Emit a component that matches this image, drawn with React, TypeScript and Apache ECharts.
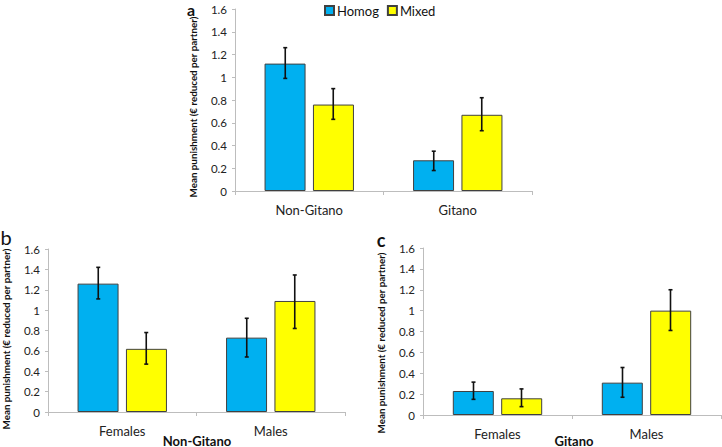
import React, { useEffect, useRef } from "react";
import * as echarts from "echarts";

// Panel a
const catsA = ["Non-Gitano", "Gitano"];
const homogA = [1.12, 0.27];
const homogALow = [0.99, 0.18];
const homogAHigh = [1.26, 0.35];
const mixedA = [0.76, 0.67];
const mixedALow = [0.63, 0.53];
const mixedAHigh = [0.9, 0.82];

// Panel b (Non-Gitano)
const catsB = ["Females", "Males"];
const homogB = [1.26, 0.73];
const homogBLow = [1.11, 0.54];
const homogBHigh = [1.42, 0.92];
const mixedB = [0.62, 1.09];
const mixedBLow = [0.47, 0.82];
const mixedBHigh = [0.78, 1.345];

// Panel c (Gitano)
const catsC = ["Females", "Males"];
const homogC = [0.23, 0.31];
const homogCLow = [0.15, 0.17];
const homogCHigh = [0.315, 0.455];
const mixedC = [0.16, 1.0];
const mixedCLow = [0.08, 0.81];
const mixedCHigh = [0.25, 1.2];

const yTitle = "Mean punishment (€ reduced per partner)";
const FONT = "Lato, 'Liberation Sans', sans-serif";
const BLUE = "#00B0F0";
const YELLOW = "#FFFF00";

export default function App() {
  const ref = useRef<HTMLDivElement>(null);
  useEffect(() => {
    if (!ref.current) return;
    const chart = echarts.init(ref.current, undefined, { renderer: "svg" });

    const grids = [
      { left: 235, top: 9, width: 297, height: 182 },
      { left: 48, top: 249, width: 297, height: 163 },
      { left: 423, top: 248, width: 298, height: 167 },
    ];
    const cats = [catsA, catsB, catsC];
    const homog = [homogA, homogB, homogC];
    const mixed = [mixedA, mixedB, mixedC];
    const hLow = [homogALow, homogBLow, homogCLow];
    const hHigh = [homogAHigh, homogBHigh, homogCHigh];
    const mLow = [mixedALow, mixedBLow, mixedCLow];
    const mHigh = [mixedAHigh, mixedBHigh, mixedCHigh];

    const xAxis = cats.map((c, i) => ({
      type: "category",
      gridIndex: i,
      data: c,
      axisLine: { lineStyle: { color: "#BDBDBD", width: 1 } },
      axisTick: { show: true, length: 4, lineStyle: { color: "#BDBDBD" } },
      axisLabel: { color: "#222", fontSize: 13, fontFamily: FONT, margin: 12 },
    }));
    const yAxis = cats.map((_, i) => ({
      type: "value",
      gridIndex: i,
      min: 0,
      max: 1.6,
      interval: 0.2,
      splitLine: { show: false },
      axisLine: { show: true, lineStyle: { color: "#BDBDBD", width: 1 } },
      axisTick: { show: true, length: 3, lineStyle: { color: "#BDBDBD" } },
      axisLabel: {
        color: "#222",
        fontSize: 11.5,
        fontFamily: FONT,
        margin: 8,
        formatter: (v: number) => String(Math.round(v * 10) / 10),
      },
    }));

    const errSeries = (gi: number, low: number[], high: number[], offset: number) => ({
      type: "custom",
      xAxisIndex: gi,
      yAxisIndex: gi,
      z: 10,
      data: low.map((l, k) => [k, l, high[k]]),
      renderItem: (params: any, api: any) => {
        const k = api.value(0);
        const p1 = api.coord([k, api.value(1)]);
        const p2 = api.coord([k, api.value(2)]);
        const x = p1[0] + offset;
        const cap = 2;
        const style = { stroke: "#111", lineWidth: 1.6 };
        return {
          type: "group",
          children: [
            { type: "line", shape: { x1: x, y1: p1[1], x2: x, y2: p2[1] }, style },
            { type: "line", shape: { x1: x - cap, y1: p1[1], x2: x + cap, y2: p1[1] }, style },
            { type: "line", shape: { x1: x - cap, y1: p2[1], x2: x + cap, y2: p2[1] }, style },
          ],
        };
      },
    });

    const series: any[] = [];
    for (let i = 0; i < 3; i++) {
      series.push({
        name: "Homog",
        type: "bar",
        xAxisIndex: i,
        yAxisIndex: i,
        data: homog[i],
        barWidth: 41,
        barGap: "18%",
        itemStyle: { color: BLUE, borderColor: "#404040", borderWidth: 1 },
      });
      series.push({
        name: "Mixed",
        type: "bar",
        xAxisIndex: i,
        yAxisIndex: i,
        data: mixed[i],
        barWidth: 41,
        barGap: "18%",
        itemStyle: { color: YELLOW, borderColor: "#404040", borderWidth: 1 },
      });
      series.push(errSeries(i, hLow[i], hHigh[i], -24));
      series.push(errSeries(i, mLow[i], mHigh[i], 24));
    }

    const rotTitle = (x: number, y: number) => ({
      type: "text",
      x,
      y,
      rotation: Math.PI / 2,
      style: {
        text: yTitle,
        fontSize: 9.8,
        lineHeight: 10,
        fontWeight: "bold",
        fontFamily: FONT,
        fill: "#111",
        align: "center",
        verticalAlign: "middle",
      },
    });
    const letter = (t: string, x: number, y: number, size: number, weight: string) => ({
      type: "text",
      x,
      y,
      style: {
        text: t,
        fontSize: size,
        lineHeight: size,
        fontWeight: weight,
        fontFamily: FONT,
        fill: "#111",
        align: "center",
        verticalAlign: "middle",
      },
    });
    const boldLabel = (t: string, x: number, y: number) => ({
      type: "text",
      x,
      y,
      style: {
        text: t,
        fontSize: 13,
        lineHeight: 13,
        fontWeight: "bold",
        fontFamily: FONT,
        fill: "#111",
        align: "center",
        verticalAlign: "middle",
      },
    });

    chart.setOption({
      animation: false,
      backgroundColor: "#fff",
      grid: grids,
      xAxis,
      yAxis,
      legend: {
        data: ["Homog", "Mixed"],
        left: 324,
        top: 4,
        padding: 0,
        itemWidth: 9,
        itemHeight: 9,
        itemGap: 8,
        icon: "rect",
        textStyle: { fontSize: 13, fontFamily: FONT, color: "#111", padding: [0, 0, 0, -2] },
      },
      graphic: [
        rotTitle(193, 107),
        rotTitle(6, 339),
        rotTitle(381, 343),
        letter("a", 191, 9.5, 16, "bold"),
        letter("b", 6, 237, 20, "normal"),
        letter("c", 381, 240, 18, "bold"),
        boldLabel("Non-Gitano", 197, 440.5),
        boldLabel("Gitano", 574, 440.5),
      ],
      series,
    });
    return () => chart.dispose();
  }, []);
  return (
    <div
      ref={ref}
      style={{ position: "absolute", left: 0, top: 0, width: 722, height: 447 }}
    />
  );
}
